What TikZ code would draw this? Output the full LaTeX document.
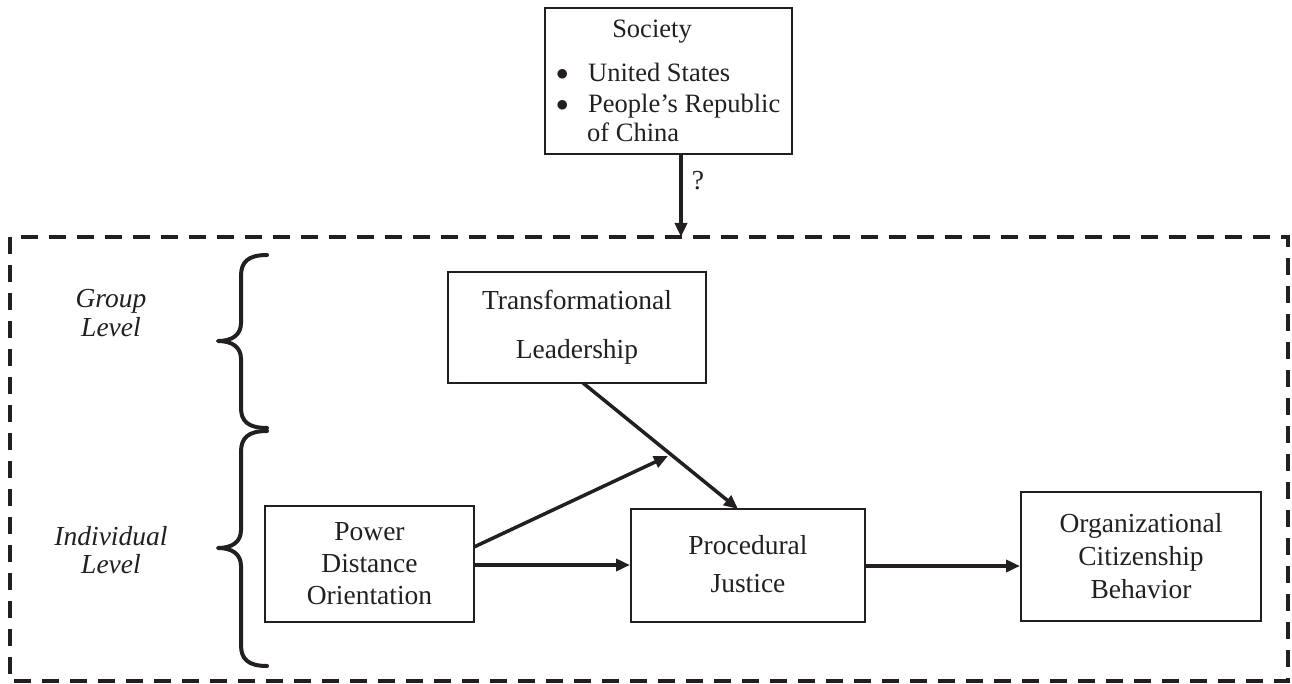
\documentclass[tikz,border=0pt]{standalone}
\usepackage{fontspec}
\setmainfont{Liberation Serif}
\usetikzlibrary{arrows.meta}
\definecolor{ink}{HTML}{231F20}
\begin{document}
\begin{tikzpicture}[x=1pt,y=-1pt,
  every node/.style={text=ink},
  txt/.style={font=\fontsize{27.5}{33}\selectfont, inner sep=0pt},
  soctxt/.style={font=\fontsize{26.5}{33}\selectfont, inner sep=0pt},
  box/.style={draw=ink, line width=2pt, align=center, inner sep=0pt},
  arr/.style={draw=ink, line width=3.5pt, -{Triangle[length=14pt,width=12pt]}},
  bracecurve/.style={draw=ink, line width=4pt, line cap=round, line join=round},
  dashbox/.style={draw=ink, line width=3.5pt, dash pattern=on 17pt off 11pt}
]
\useasboundingbox (0,0) rectangle (1292,684);
% outer dashed frame
\draw[dashbox] (10,237) rectangle (1288,681);
% Society box
\node[box, minimum width=247pt, minimum height=146pt] (soc) at (668.5,81) {};
\node[soctxt, anchor=base] (soct) at (652,38) {Society};
\node[soctxt, anchor=base west] (us) at (556,82) {\makebox[32pt][l]{\raisebox{1pt}{$\bullet$}}United States};
\node[soctxt, anchor=base west] (prc) at (556,113) {\makebox[32pt][l]{\raisebox{1pt}{$\bullet$}}People’s Republic};
\node[soctxt, anchor=base west] (ofc) at (587,142) {of China};
\coordinate (top) at (681,237);
\draw[arr] (soc.south -| top) -- (top);
\node[txt, anchor=base] (q) at (698,190) {?};
% level labels
\node[txt, align=center, font=\fontsize{27.5}{29}\selectfont\itshape, anchor=base] (grp) at (111,337) {Group\\Level};
\node[txt, align=center, font=\fontsize{27.5}{28}\selectfont\itshape, anchor=base] (ind) at (111,573) {Individual\\Level};
% braces
\draw[bracecurve] (267,255) .. controls (248,255) and (241,262) .. (241,276) -- (241,323)
  .. controls (241,335) and (232,341) .. (218,341)
  .. controls (232,341) and (241,347) .. (241,359) -- (241,408)
  .. controls (241,421) and (248,428) .. (267,428);
\draw[bracecurve] (267,431) .. controls (248,431) and (241,438) .. (241,452) -- (241,530)
  .. controls (241,542) and (232,548) .. (218,548)
  .. controls (232,548) and (241,554) .. (241,566) -- (241,645)
  .. controls (241,659) and (248,666) .. (267,666);
% boxes
\node[box, minimum width=258pt, minimum height=111pt, font=\fontsize{27.5}{49}\selectfont] (tl) at (577,327.5) {Transformational\\Leadership};
\node[box, minimum width=209pt, minimum height=116pt, font=\fontsize{27.5}{32}\selectfont] (pdo) at (369.5,564) {Power\\Distance\\Orientation};
\node[box, minimum width=234pt, minimum height=113pt, font=\fontsize{27.5}{38}\selectfont] (pj) at (748,565.5) {\raisebox{4pt}{Procedural}\\\raisebox{4pt}{Justice}};
\node[box, minimum width=240pt, minimum height=129pt, font=\fontsize{27.5}{33}\selectfont] (ocb) at (1141,556.5) {Organizational\\Citizenship\\Behavior};
% connectors
\coordinate (tlout) at (583,383);
\coordinate (pjin) at (738,509);
\coordinate (mod) at (668,456);
\draw[arr] (tlout) -- (pjin);
\draw[arr] (474,547) -- (mod);
\draw[arr] (pdo.east |- 0,565) -- (pj.west |- 0,565);
\draw[arr] (pj.east |- 0,566) -- (ocb.west |- 0,566);
\end{tikzpicture}
\end{document}
